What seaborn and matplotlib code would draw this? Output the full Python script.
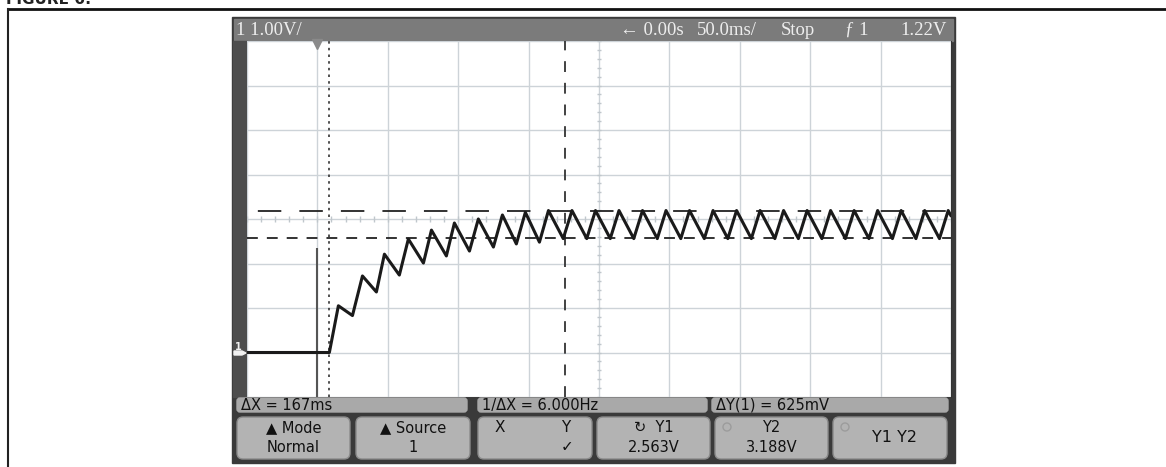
import numpy as np
import pandas as pd
import seaborn as sns
import matplotlib.pyplot as plt
from matplotlib.patches import Rectangle, FancyBboxPatch, Polygon, Circle

# channel 1 trace, vertices (time in ms, volts)
t_ms = [-50, 8.5, 14.9, 24.9, 32.0, 41.9, 47.6, 58.2, 64.6, 75.3, 81.0, 91.6,
        97.3, 108.0, 114.3, 125.0, 131.4, 141.3, 147.7, 157.7, 164.1, 174.6,
        180.8, 191.3, 197.5, 208.0, 214.2, 224.7, 230.9, 241.4, 247.6, 258.1,
        264.3, 274.8, 281.0, 291.5, 297.7, 308.2, 314.4, 324.9, 331.1, 341.6,
        347.8, 358.3, 364.5, 375.0, 381.2, 391.7, 397.9, 408.4, 414.6, 425.1,
        431.3, 441.8, 448.0, 450.0]
volts = [0.0, 0.0, 1.05, 0.83, 1.72, 1.36, 2.21, 1.74, 2.55, 2.01, 2.75, 2.17,
         2.91, 2.28, 3.00, 2.37, 3.09, 2.44, 3.15, 2.48, 3.19, 2.56,
         3.19, 2.56, 3.19, 2.56, 3.19, 2.56, 3.19, 2.56, 3.19, 2.56,
         3.19, 2.56, 3.19, 2.56, 3.19, 2.56, 3.19, 2.56, 3.19, 2.56,
         3.19, 2.56, 3.19, 2.56, 3.19, 2.56, 3.19, 2.56, 3.19, 2.56,
         3.19, 2.56, 3.19, 3.07]

# cursors
x_cursors = [8.5, 175.5]      # X1, X2 (ms)
y_cursors = [2.563, 3.188]    # Y1, Y2 (V)
trigger_t = 0.0
trigger_line_top = 2.35

# screen text
top_left = "1 1.00V/"
top_right = ["← 0.00s", "50.0ms/", "Stop", "ƒ 1", "1.22V"]
top_right_x = [620, 697, 781, 845, 900]
meas_labels = ["ΔX = 167ms", "1/ΔX = 6.000Hz", "ΔY(1) = 625mV"]
softkeys = [("▲ Mode", "Normal"), ("▲ Source", "1"), ("X", "Y"),
            ("↻  Y1", "2.563V"), ("Y2", "3.188V"), ("Y1 Y2", "")]

df = pd.DataFrame({"t": t_ms, "v": volts})

W, H = 1166, 467
fig = plt.figure(figsize=(W / 100, H / 100), dpi=100)

# background layer in pixel coordinates (panels, buttons)
bg = fig.add_axes([0, 0, 1, 1], zorder=0)
bg.set_xlim(0, W)
bg.set_ylim(H, 0)
bg.axis("off")

# page frame and the caption, cut off by the top edge as in the scan
bg.text(6, 4, "FIGURE 6:", fontsize=11, weight="bold", color="#222", va="baseline")
bg.plot([8, W], [9, 9], color="#111", lw=2)
bg.plot([8, 8], [9, H], color="#222", lw=1.5)

bg.add_patch(Rectangle((232, 17), 723, 446, color="#3a3a3a"))
bg.add_patch(Rectangle((234, 19), 719, 22, color="#7b7b7b"))
bg.add_patch(Rectangle((233, 41), 14, 356, color="#4d4d4d"))

serif = ["Liberation Serif", "DejaVu Serif"]
bg.text(236, 30.5, top_left, color="#ededed", fontsize=13.5, va="center", ha="left",
        family=serif)
for s, x in zip(top_right, top_right_x):
    bg.text(x, 30.5, s, color="#ededed", fontsize=13.5, va="center", ha="left",
            family=serif + ["DejaVu Sans"])

meas_x = [(237, 467), (478, 707), (712, 948)]
for (x0, x1), s in zip(meas_x, meas_labels):
    bg.add_patch(FancyBboxPatch((x0, 398), x1 - x0, 14, boxstyle="round,pad=0,rounding_size=3",
                                color="#a9a9a9"))
    bg.text(x0 + 4, 405.5, s, color="#111", fontsize=10.5, va="center", ha="left")

key_x = [(237, 350), (356, 470), (478, 592), (597, 710), (715, 828), (833, 947)]
for i, ((x0, x1), (l1, l2)) in enumerate(zip(key_x, softkeys)):
    bg.add_patch(FancyBboxPatch((x0, 417), x1 - x0, 42, boxstyle="round,pad=0,rounding_size=6",
                                color="#b3b3b3", ec="#8a8a8a"))
    cx = (x0 + x1) / 2
    if i == 2:
        bg.text(x0 + 22, 428, l1, color="#111", fontsize=11, ha="center", va="center")
        bg.text(x1 - 26, 428, l2, color="#111", fontsize=11, ha="center", va="center")
        bg.text(x1 - 25, 447, "✓", color="#111", fontsize=11, ha="center", va="center")
    elif l2:
        bg.text(cx, 428, l1, color="#111", fontsize=10.5, ha="center", va="center")
        bg.text(cx, 447, l2, color="#111", fontsize=10.5, ha="center", va="center")
    else:
        bg.text(cx + 4, 437, l1, color="#111", fontsize=11.5, ha="center", va="center")
    if i in (4, 5):
        bg.add_patch(Circle((x0 + 12, 427), 4, fill=False, ec="#9c9c9c", lw=1))

# ground marker on the left strip
bg.text(238, 347, "1", color="#f0f0f0", fontsize=7, ha="center", va="center", weight="bold")
bg.add_patch(Polygon([[234, 351], [242, 351], [246, 353], [242, 355], [234, 355]], color="#f0f0f0"))

# the scope graticule
ax = fig.add_axes([247 / W, 1 - 397 / H, 704 / W, 356 / H], zorder=1)
sns.set_style("white")
ax.set_facecolor("white")
ax.set_xlim(-50, 450)
ax.set_ylim(-1, 7)
ax.set_xticks(np.arange(-50, 451, 50))
ax.set_yticks(np.arange(-1, 7.1, 1))
ax.grid(True, color="#cdd3d8", lw=1)
ax.tick_params(length=0, labelbottom=False, labelleft=False)
for sp in ax.spines.values():
    sp.set_visible(False)
ax.spines["right"].set_visible(True)
ax.spines["right"].set_color("#333")

# minor ticks on the centre crosshair
ax.vlines(np.arange(-50, 451, 10), 3 - 0.07, 3 + 0.07, color="#c0c7cc", lw=1)
ax.hlines(np.arange(-1, 7.01, 0.2), 200 - 1.5, 200 + 1.5, color="#c0c7cc", lw=1)

# trigger marker
ax.vlines(trigger_t, -1, trigger_line_top, color="#555", lw=1.5)
ax.plot([trigger_t], [6.93], marker="v", ms=7, color="#8a8a8a", clip_on=False)

# cursors
ax.axvline(x_cursors[0], color="#333", lw=1.2, ls=(0, (1.5, 2.5)))
ax.axvline(x_cursors[1], color="#333", lw=1.3, ls=(0, (6, 6)))
ax.axhline(y_cursors[0], color="#222", lw=1.3, ls=(0, (6, 5)))
ax.axhline(y_cursors[1], color="#222", lw=1.3, ls=(-6, (13, 10)))

sns.lineplot(data=df, x="t", y="v", sort=False, color="#1a1a1a", lw=2.2, ax=ax,
             estimator=None)
ax.set_xlabel("")
ax.set_ylabel("")

fig.savefig("out.png", dpi=100)
